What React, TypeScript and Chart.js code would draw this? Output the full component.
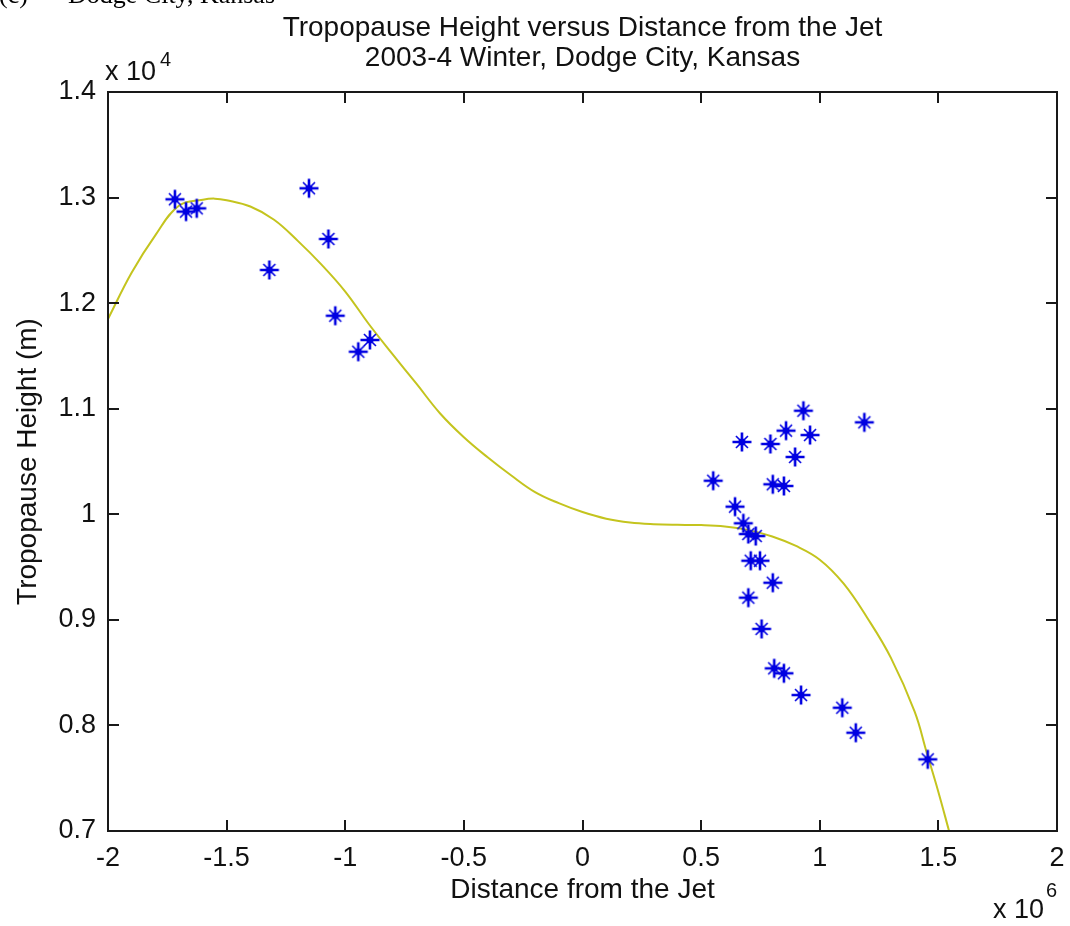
import React, { useEffect, useRef } from "react";
import { Chart, registerables } from "chart.js";

Chart.register(...registerables);

// ---- text ----
const chartTitle = [
  "Tropopause Height versus Distance from the Jet",
  "2003-4 Winter, Dodge City, Kansas",
];
const captionLabel = "(c)";
const captionText = "Dodge City, Kansas";
const xAxisLabel = "Distance from the Jet";
const yAxisLabel = "Tropopause Height (m)";
const xExponent = "6";
const yExponent = "4";

// ---- ticks ----
const xTickValues = [-2e6, -1.5e6, -1e6, -0.5e6, 0, 0.5e6, 1e6, 1.5e6, 2e6];
const xTickLabels = ["-2", "-1.5", "-1", "-0.5", "0", "0.5", "1", "1.5", "2"];
const yTickValues = [7000, 8000, 9000, 10000, 11000, 12000, 13000, 14000];
const yTickLabels = ["0.7", "0.8", "0.9", "1", "1.1", "1.2", "1.3", "1.4"];

// ---- observations (distance in m, height in m) ----
const obsDistance = [
  -1.718e6, -1.671e6, -1.626e6, -1.153e6, -1.071e6, -1.32e6, -1.042e6, -0.945e6, -0.896e6,
  0.931e6, 1.188e6, 0.858e6, 0.959e6, 0.672e6, 0.792e6, 0.896e6, 0.551e6, 0.802e6, 0.849e6,
  0.643e6, 0.678e6, 0.699e6, 0.73e6, 0.709e6, 0.748e6, 0.802e6, 0.699e6, 0.755e6, 0.808e6,
  0.849e6, 0.921e6, 1.095e6, 1.152e6, 1.455e6,
];
const obsHeight = [
  12984, 12867, 12898, 13088, 12608, 12314, 11881, 11540, 11651,
  10981, 10871, 10792, 10751, 10685, 10666, 10543, 10318, 10284, 10268,
  10072, 9915, 9813, 9794, 9560, 9560, 9352, 9210, 8914, 8541,
  8494, 8288, 8168, 7931, 7679,
];

// ---- fitted curve ----
const fitDistance = [
  -2.0e6, -1.9e6, -1.8e6, -1.7e6, -1.6e6, -1.55e6, -1.5e6, -1.4e6, -1.3e6, -1.2e6, -1.1e6,
  -1.0e6, -0.9e6, -0.8e6, -0.7e6, -0.6e6, -0.5e6, -0.4e6, -0.3e6, -0.2e6, -0.1e6, 0,
  0.1e6, 0.2e6, 0.3e6, 0.4e6, 0.5e6, 0.6e6, 0.7e6, 0.8e6, 0.9e6, 1.0e6, 1.1e6, 1.2e6,
  1.3e6, 1.4e6, 1.45e6, 1.5e6, 1.545e6,
];
const fitHeight = [
  11850, 12290, 12645, 12925, 12980, 12990, 12975, 12915, 12790, 12590, 12365,
  12110, 11800, 11515, 11237, 10955, 10730, 10540, 10367, 10210, 10105, 10021,
  9958, 9922, 9906, 9900, 9898, 9885, 9850, 9790, 9700, 9570, 9345, 9020,
  8640, 8130, 7750, 7370, 7000,
];

const FONT = "'Liberation Sans', Arial, Helvetica, sans-serif";
const SERIF = "'Liberation Serif', 'Times New Roman', serif";
const MARKER_COLOR = "rgb(0,0,225)";
const LINE_COLOR = "rgb(196,196,30)";
const AXIS_COLOR = "rgb(25,25,25)";

function makeStar(color: string): HTMLCanvasElement {
  const c = document.createElement("canvas");
  c.width = 22;
  c.height = 22;
  const g = c.getContext("2d")!;
  const m = 11;
  g.strokeStyle = color;
  g.lineWidth = 2.6;
  g.beginPath();
  g.moveTo(m - 9.5, m);
  g.lineTo(m + 9.5, m);
  g.moveTo(m, m - 9.5);
  g.lineTo(m, m + 9.5);
  g.stroke();
  g.lineWidth = 1.6;
  const d = 6;
  g.beginPath();
  g.moveTo(m - d, m - d);
  g.lineTo(m + d, m + d);
  g.moveTo(m - d, m + d);
  g.lineTo(m + d, m - d);
  g.stroke();
  g.fillStyle = color;
  g.beginPath();
  g.arc(m, m, 3.6, 0, Math.PI * 2);
  g.fill();
  return c;
}

const decorPlugin = {
  id: "matlabDecor",
  afterDraw(chart: any) {
    const { ctx, chartArea } = chart;
    const { left, right, top, bottom } = chartArea;
    const xs = chart.scales.x;
    const ys = chart.scales.y;
    ctx.save();
    // box
    ctx.strokeStyle = AXIS_COLOR;
    ctx.lineWidth = 2;
    ctx.strokeRect(left, top, right - left, bottom - top);
    // inward ticks on all sides
    const tl = 11;
    ctx.beginPath();
    xTickValues.forEach((v) => {
      const px = Math.round(xs.getPixelForValue(v));
      ctx.moveTo(px, bottom);
      ctx.lineTo(px, bottom - tl);
      ctx.moveTo(px, top);
      ctx.lineTo(px, top + tl);
    });
    yTickValues.forEach((v) => {
      const py = Math.round(ys.getPixelForValue(v));
      ctx.moveTo(left, py);
      ctx.lineTo(left + tl, py);
      ctx.moveTo(right, py);
      ctx.lineTo(right - tl, py);
    });
    ctx.stroke();

    // titles
    ctx.fillStyle = "#111";
    ctx.textAlign = "center";
    ctx.textBaseline = "alphabetic";
    ctx.font = `28px ${FONT}`;
    const cx = (left + right) / 2;
    ctx.fillText(chartTitle[0], cx, 36);
    ctx.fillText(chartTitle[1], cx, 66);

    // exponent labels
    ctx.textAlign = "left";
    ctx.font = `27px ${FONT}`;
    ctx.fillText("x 10", left - 3, 80);
    ctx.font = `20px ${FONT}`;
    ctx.fillText(yExponent, left + 52, 66);
    ctx.font = `27px ${FONT}`;
    ctx.fillText("x 10", 993, 918);
    ctx.font = `20px ${FONT}`;
    ctx.fillText(xExponent, 1046, 897);

    // cut-off caption at the very top
    ctx.font = `26px ${SERIF}`;
    ctx.fillStyle = "#000";
    ctx.fillText(captionLabel, -1, 3);
    ctx.fillText(captionText, 68, 3);
    ctx.restore();
  },
};

export default function App() {
  const ref = useRef<HTMLCanvasElement | null>(null);

  useEffect(() => {
    if (!ref.current) return;
    const star = makeStar(MARKER_COLOR);
    const chart = new Chart(ref.current, {
      type: "scatter",
      data: {
        datasets: [
          {
            label: "fit",
            data: fitDistance.map((x, i) => ({ x, y: fitHeight[i] })),
            showLine: true,
            borderColor: LINE_COLOR,
            borderWidth: 2,
            pointRadius: 0,
            tension: 0.4,
            order: 2,
          },
          {
            label: "obs",
            data: obsDistance.map((x, i) => ({ x, y: obsHeight[i] })),
            showLine: false,
            pointStyle: star as any,
            pointRadius: 10,
            borderColor: MARKER_COLOR,
            backgroundColor: MARKER_COLOR,
            order: 1,
          },
        ],
      },
      options: {
        animation: false,
        responsive: false,
        devicePixelRatio: 1,
        events: [],
        layout: { padding: { top: 92, right: 13, left: 0, bottom: 0 } },
        plugins: {
          legend: { display: false },
          tooltip: { enabled: false },
          title: { display: false },
        },
        scales: {
          x: {
            type: "linear",
            min: -2e6,
            max: 2e6,
            grid: { display: false },
            border: { display: false },
            afterBuildTicks: (s: any) => {
              s.ticks = xTickValues.map((value) => ({ value }));
            },
            afterFit: (s: any) => {
              s.height = 95;
            },
            ticks: {
              padding: 3,
              maxRotation: 0,
              autoSkip: false,
              color: "#111",
              font: { family: FONT, size: 27 },
              callback: (_v: any, i: number) => xTickLabels[i],
            },
            title: {
              display: true,
              text: xAxisLabel,
              color: "#111",
              font: { family: FONT, size: 28 },
              padding: { top: 0, bottom: 19 },
            },
          },
          y: {
            type: "linear",
            min: 7000,
            max: 14000,
            grid: { display: false },
            border: { display: false },
            afterBuildTicks: (s: any) => {
              s.ticks = yTickValues.map((value) => ({ value }));
            },
            afterFit: (s: any) => {
              s.width = 108;
            },
            ticks: {
              padding: 4,
              autoSkip: false,
              color: "#111",
              font: { family: FONT, size: 27 },
              callback: (_v: any, i: number) => yTickLabels[i],
            },
            title: {
              display: true,
              text: yAxisLabel,
              color: "#111",
              font: { family: FONT, size: 28 },
              padding: { top: 11, bottom: 0 },
            },
          },
        },
      },
      plugins: [decorPlugin],
    });
    return () => chart.destroy();
  }, []);

  return (
    <div style={{ position: "absolute", left: 0, top: 0, width: 1070, height: 926, background: "#fff" }}>
      <canvas ref={ref} width={1070} height={926} style={{ display: "block", width: 1070, height: 926 }} />
    </div>
  );
}
